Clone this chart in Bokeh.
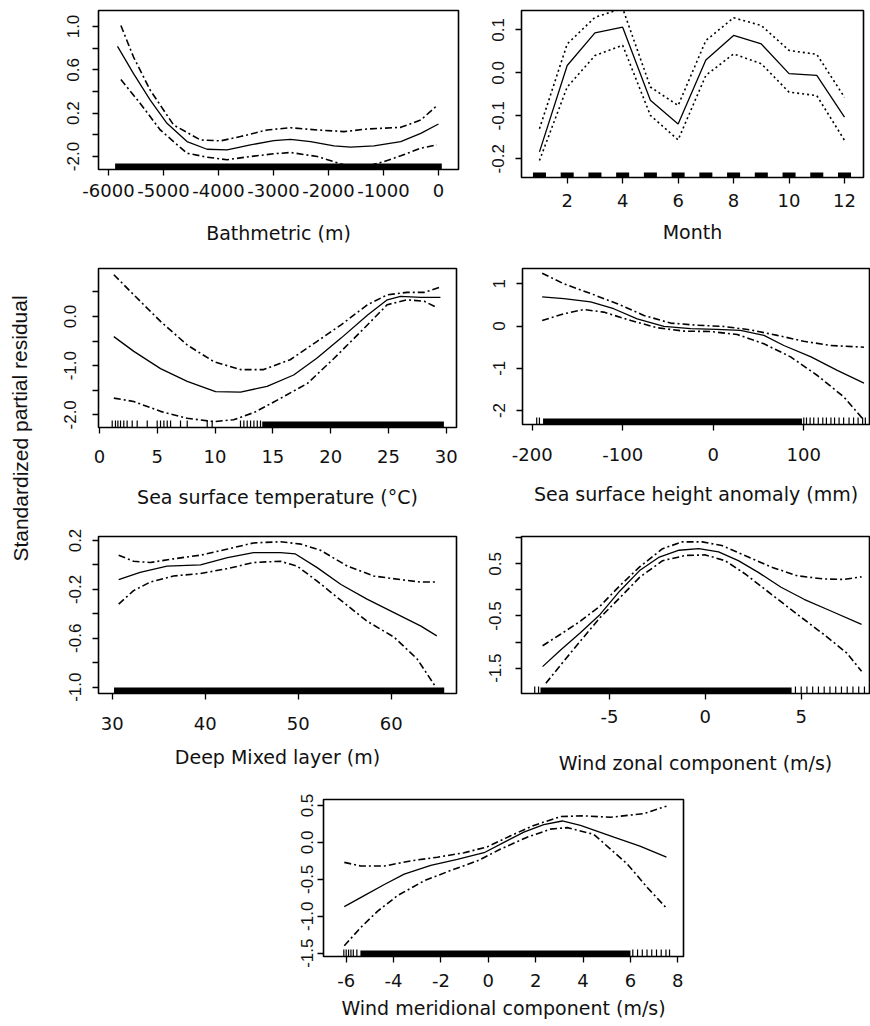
from bokeh.plotting import figure
from bokeh.layouts import row, column
from bokeh.models import FixedTicker, Range1d
from bokeh.core.properties import value
from bokeh.embed import file_html
from bokeh.resources import INLINE

# ---------------- data ----------------
# Bathymetric (m)
bath_x = [-5836, -5545, -5241, -4937, -4573, -4208, -3844, -3419, -2994, -2690, -2326, -1901, -1597, -1172, -686, -322, 0]
bath_fit = [0.816, 0.565, 0.32, 0.106, -0.062, -0.133, -0.139, -0.093, -0.053, -0.041, -0.062, -0.102, -0.114, -0.102, -0.062, 0.014, 0.10]
bath_up_x = [-5775, -5545, -5241, -4816, -4330, -3965, -3601, -3115, -2690, -2204, -1718, -1293, -686, -322, -49]
bath_up = [1.009, 0.718, 0.412, 0.091, -0.047, -0.056, -0.016, 0.045, 0.066, 0.045, 0.03, 0.054, 0.069, 0.137, 0.26]
bath_lo_x = [-5775, -5423, -5059, -4573, -4208, -3844, -3419, -2994, -2690, -2204, -1718, -1293, -990, -686, -322, -30]
bath_lo = [0.51, 0.29, 0.045, -0.17, -0.206, -0.23, -0.2, -0.175, -0.163, -0.2, -0.277, -0.29, -0.246, -0.194, -0.123, -0.093]
bath_rug_span = [-5880, 60]
bath_xticks = [-6000, -5000, -4000, -3000, -2000, -1000, 0]
bath_xlabels = ["-6000", "-5000", "-4000", "-3000", "-2000", "-1000", "0"]
bath_yticks = [1.0, 0.8, 0.6, 0.4, 0.2, 0.0, -0.2]
bath_ylabels = ["1.0", "", "0.6", "", "0.2", "", "-2.0"]

# Month
months = [1, 2, 3, 4, 5, 6, 7, 8, 9, 10, 11, 12]
month_fit = [-0.184, 0.017, 0.093, 0.106, -0.064, -0.119, 0.030, 0.087, 0.067, -0.002, -0.006, -0.103]
month_up = [-0.130, 0.067, 0.129, 0.150, -0.033, -0.076, 0.075, 0.128, 0.110, 0.052, 0.043, -0.057]
month_lo = [-0.204, -0.033, 0.040, 0.064, -0.099, -0.156, -0.006, 0.044, 0.021, -0.045, -0.053, -0.157]
month_xticks = [2, 4, 6, 8, 10, 12]
month_xlabels = ["2", "4", "6", "8", "10", "12"]
month_yticks = [0.1, 0.0, -0.1, -0.2]
month_ylabels = ["0.1", "0.0", "-0.1", "-0.2"]

# Sea surface temperature
sst_x = [1.24, 2.97, 5.28, 7.59, 10.04, 12.2, 14.5, 16.8, 18.8, 20.9, 23.2, 24.9, 26.05, 27.8, 29.5]
sst_fit = [-0.41, -0.71, -1.06, -1.32, -1.53, -1.54, -1.42, -1.19, -0.85, -0.44, 0.03, 0.34, 0.41, 0.39, 0.39]
sst_up_x = [1.24, 2.97, 5.28, 7.59, 9.9, 12.2, 14.2, 16.5, 18.8, 20.9, 23.2, 24.9, 26.6, 28.1, 29.4]
sst_up = [0.85, 0.44, -0.10, -0.58, -0.92, -1.08, -1.08, -0.88, -0.51, -0.17, 0.24, 0.44, 0.49, 0.49, 0.59]
sst_lo_x = [1.24, 2.97, 5.28, 7.59, 9.9, 11.6, 13.4, 15.7, 18.0, 20.3, 22.6, 24.9, 26.6, 28.1, 29.2]
sst_lo = [-1.66, -1.73, -1.93, -2.07, -2.14, -2.10, -1.95, -1.66, -1.36, -0.85, -0.31, 0.24, 0.34, 0.31, 0.18]
sst_rug_sparse = [1.1, 1.38, 1.59, 1.82, 2.1, 2.39, 2.83, 3.26, 4.13, 4.99, 5.28, 5.57, 5.86, 6.15, 7.01, 7.59,
                  9.32, 9.75, 12.2, 12.49, 12.78, 13.07, 13.36, 13.65, 13.93]
sst_rug_span = [14.08, 29.8]
sst_xticks = [0, 5, 10, 15, 20, 25, 30]
sst_xlabels = ["0", "5", "10", "15", "20", "25", "30"]
sst_yticks = [0.5, 0.0, -0.5, -1.0, -1.5, -2.0]
sst_ylabels = ["", "0.0", "", "-1.0", "", "-2.0"]

# Sea surface height anomaly
ssh_x = [-189, -165, -135.5, -110, -84, -54.5, -25, 4, 30, 56, 78, 108, 137, 166.5]
ssh_fit = [0.69, 0.65, 0.57, 0.41, 0.17, -0.01, -0.06, -0.08, -0.10, -0.22, -0.46, -0.73, -1.05, -1.35]
ssh_up_x = [-189, -165, -135.5, -106, -76.6, -47, -17.7, 11.8, 41, 70.7, 100, 129.7, 166.5]
ssh_up = [1.25, 1.0, 0.77, 0.53, 0.25, 0.07, 0.02, -0.01, -0.09, -0.22, -0.36, -0.46, -0.50]
ssh_lo_x = [-189, -165, -143, -121, -91, -62, -32.4, -3, 26.5, 56, 85.5, 115, 144.4, 166.5]
ssh_lo = [0.13, 0.29, 0.39, 0.33, 0.13, -0.04, -0.12, -0.13, -0.20, -0.42, -0.73, -1.17, -1.68, -2.23]
ssh_rug_sparse = [-195, -192, 100, 103, 107, 111, 116, 121, 125, 130, 134, 139, 144, 150, 155, 160, 165, 168]
ssh_rug_span = [-188, 98]
ssh_xticks = [-200, -100, 0, 100]
ssh_xlabels = ["-200", "-100", "0", "100"]
ssh_yticks = [1, 0, -1, -2]
ssh_ylabels = ["1", "0", "-1", "-2"]

# Deep mixed layer
mld_x = [30.7, 33.0, 35.9, 39.5, 42.4, 45.2, 48.1, 49.7, 52.0, 54.6, 57.4, 60.3, 63.2, 64.9]
mld_fit = [-0.12, -0.06, -0.01, 0.0, 0.06, 0.10, 0.10, 0.09, -0.02, -0.16, -0.28, -0.39, -0.50, -0.58]
mld_up_x = [30.7, 32.3, 34.1, 36.6, 39.5, 42.4, 45.2, 48.1, 50.3, 52.4, 55.3, 58.1, 61.0, 63.2, 64.9]
mld_up = [0.08, 0.03, 0.02, 0.05, 0.08, 0.13, 0.18, 0.19, 0.17, 0.12, -0.01, -0.09, -0.12, -0.14, -0.14]
mld_lo_x = [30.7, 32.3, 34.1, 36.6, 39.5, 42.4, 45.2, 48.1, 49.9, 52.0, 54.6, 57.4, 60.3, 62.8, 64.8]
mld_lo = [-0.32, -0.21, -0.14, -0.09, -0.07, -0.03, 0.02, 0.03, -0.01, -0.13, -0.29, -0.46, -0.59, -0.77, -1.0]
mld_rug_span = [30.2, 65.7]
mld_xticks = [30, 40, 50, 60]
mld_xlabels = ["30", "40", "50", "60"]
mld_yticks = [0.2, 0.0, -0.2, -0.4, -0.6, -0.8, -1.0]
mld_ylabels = ["0.2", "", "-0.2", "", "-0.6", "", "-1.0"]

# Wind zonal component
uz_x = [-8.49, -7.55, -6.52, -5.49, -4.46, -3.43, -2.4, -1.37, -0.34, 0.69, 1.72, 2.74, 3.95, 5.15, 6.52, 8.15]
uz_fit = [-1.47, -1.15, -0.82, -0.47, -0.02, 0.37, 0.63, 0.76, 0.79, 0.73, 0.56, 0.34, 0.05, -0.18, -0.40, -0.66]
uz_up_x = [-8.49, -7.55, -6.52, -5.49, -4.46, -3.43, -2.23, -1.2, -0.17, 0.86, 2.06, 3.43, 4.8, 6.17, 7.2, 8.15]
uz_up = [-1.07, -0.85, -0.60, -0.31, 0.08, 0.44, 0.79, 0.92, 0.92, 0.85, 0.66, 0.44, 0.27, 0.21, 0.20, 0.25]
uz_lo_x = [-8.32, -7.55, -6.52, -5.49, -4.46, -3.43, -2.23, -1.03, 0.0, 1.03, 2.06, 3.43, 4.8, 6.17, 7.38, 8.15]
uz_lo = [-1.79, -1.44, -0.98, -0.53, -0.15, 0.24, 0.56, 0.66, 0.67, 0.56, 0.31, -0.08, -0.47, -0.85, -1.21, -1.56]
uz_rug_sparse = [-8.9, -8.7, 4.7, 5.0, 5.3, 5.6, 5.9, 6.2, 6.5, 6.8, 7.1, 7.4, 7.7, 8.0, 8.3]
uz_rug_span = [-8.6, 4.5]
uz_xticks = [-5, 0, 5]
uz_xlabels = ["-5", "0", "5"]
uz_yticks = [1.0, 0.5, 0.0, -0.5, -1.0, -1.5]
uz_ylabels = ["", "0.5", "", "-0.5", "", "-1.5"]

# Wind meridional component
vm_x = [-6.08, -5.24, -4.39, -3.55, -2.43, -1.31, -0.18, 0.66, 1.5, 2.34, 3.12, 3.89, 5.3, 6.4, 7.52]
vm_fit = [-0.87, -0.72, -0.57, -0.43, -0.31, -0.23, -0.14, 0.0, 0.14, 0.24, 0.29, 0.23, 0.07, -0.05, -0.20]
vm_up_x = [-6.08, -5.38, -4.39, -3.27, -2.15, -1.02, -0.04, 0.94, 1.92, 3.05, 4.03, 5.16, 6.57, 7.13, 7.52]
vm_up = [-0.27, -0.32, -0.32, -0.25, -0.20, -0.14, -0.06, 0.09, 0.23, 0.35, 0.36, 0.34, 0.39, 0.45, 0.49]
vm_lo_x = [-6.08, -5.38, -4.67, -3.83, -2.71, -1.59, -0.46, 0.52, 1.64, 2.62, 3.33, 4.45, 5.86, 6.71, 7.52]
vm_lo = [-1.40, -1.15, -0.93, -0.72, -0.52, -0.38, -0.25, -0.09, 0.07, 0.18, 0.20, 0.11, -0.29, -0.61, -0.89]
vm_rug_sparse = [-6.1, -6.0, -5.9, -5.8, -5.7, -5.55, 6.1, 6.3, 6.5, 6.7, 6.9, 7.1, 7.3, 7.5, 7.65]
vm_rug_span = [-5.4, 6.0]
vm_xticks = [-6, -4, -2, 0, 2, 4, 6, 8]
vm_xlabels = ["-6", "-4", "-2", "0", "2", "4", "6", "8"]
vm_yticks = [0.5, 0.0, -0.5, -1.0, -1.5]
vm_ylabels = ["0.5", "0.0", "-0.5", "-1.0", "-1.5"]

y_title = "Standardized partial residual"

# ---------------- style ----------------
TICK_FONT = "DejaVu Sans"
YTICK_FONT = "Liberation Sans"
TEXT_COLOR = "#111111"
CI_DASH = "7 3 2 3"


def panel(xr, yr, fw, fh, bl, br, bt, bb, xticks, xlabels, yticks, ylabels,
          title, xstand, tstand, ystand):
    p = figure(frame_width=fw, frame_height=fh,
               x_range=Range1d(*xr), y_range=Range1d(*yr),
               min_border_left=bl, min_border_right=br,
               min_border_top=bt, min_border_bottom=bb,
               output_backend="svg", toolbar_location=None, tools="")
    p.grid.visible = False
    p.outline_line_color = "black"
    p.outline_line_width = 1.6
    p.background_fill_color = "white"
    p.border_fill_color = "white"

    xa = p.xaxis[0]
    xa.ticker = FixedTicker(ticks=xticks)
    xa.major_label_overrides = dict(zip(xticks, xlabels))
    xa.axis_line_color = None
    xa.major_tick_out = 6
    xa.major_tick_in = 0
    xa.major_tick_line_width = 1.3
    xa.minor_tick_line_color = None
    xa.major_label_text_font = TICK_FONT
    xa.major_label_text_font_size = "18px"
    xa.major_label_text_color = TEXT_COLOR
    xa.major_label_standoff = xstand
    xa.axis_label = title
    xa.axis_label_text_font = TICK_FONT
    xa.axis_label_text_font_size = "19px"
    xa.axis_label_text_font_style = "normal"
    xa.axis_label_text_color = TEXT_COLOR
    xa.axis_label_standoff = tstand

    ya = p.yaxis[0]
    ya.ticker = FixedTicker(ticks=yticks)
    ya.major_label_overrides = dict(zip(yticks, ylabels))
    ya.axis_line_color = None
    ya.major_tick_out = 6
    ya.major_tick_in = 0
    ya.major_tick_line_width = 1.3
    ya.minor_tick_line_color = None
    ya.major_label_orientation = "vertical"
    ya.major_label_text_font = YTICK_FONT
    ya.major_label_text_font_size = "17px"
    ya.major_label_text_color = TEXT_COLOR
    ya.major_label_standoff = ystand
    return p


def curves(p, x, fit, ux, up, lx, lo, dash=CI_DASH):
    p.line(x, fit, line_color="black", line_width=1.3)
    p.line(ux, up, line_color="black", line_width=1.6, line_dash=dash)
    p.line(lx, lo, line_color="black", line_width=1.6, line_dash=dash)


def rug(p, ybase, span=None, sparse=None):
    if span is not None:
        p.rect(x=[(span[0] + span[1]) / 2], y=[ybase], width=[span[1] - span[0]],
               height=12, height_units="screen", fill_color="black", line_color=None)
    if sparse is not None:
        p.rect(x=sparse, y=[ybase] * len(sparse), width=1.2, width_units="screen",
               height=14, height_units="screen", fill_color="black", line_color=None)


# ----- Row 1 (0..248) -----
p1 = panel((-6182, 364), (-0.32, 1.1477), 360, 159, 98, 12, 7, 82,
           bath_xticks, bath_xlabels, bath_yticks, bath_ylabels,
           "Bathmetric (m)", 8, 22, 13)
rug(p1, -0.32, span=bath_rug_span)
curves(p1, bath_x, bath_fit, bath_up_x, bath_up, bath_lo_x, bath_lo)

p2 = panel((0.352, 12.685), (-0.2435, 0.1449), 342, 167, 51, 7, 10, 71,
           month_xticks, month_xlabels, month_yticks, month_ylabels,
           "Month", 10, 11, 11)
p2.rect(x=months, y=[-0.2435] * len(months), width=0.47, height=10, height_units="screen",
        fill_color="black", line_color=None)
curves(p2, months, month_fit, months, month_up, months, month_lo, dash="2 3")

# ----- Row 2 (248..512) -----
p3 = panel((-0.087, 30.89), (-2.258, 0.976), 358, 159, 58, 16, 19, 86,
           sst_xticks, sst_xlabels, sst_yticks, sst_ylabels,
           "Sea surface temperature (\u00b0C)", 16, 20, 16)
rug(p3, -2.258, span=sst_rug_span, sparse=sst_rug_sparse)
curves(p3, sst_x, sst_fit, sst_up_x, sst_up, sst_lo_x, sst_lo)

p4 = panel((-210.7, 172.6), (-2.33, 1.362), 347, 156, 50, 1, 20, 88,
           ssh_xticks, ssh_xlabels, ssh_yticks, ssh_ylabels,
           "Sea surface height anomaly (mm)", 17, 19, 11)
rug(p4, -2.33, span=ssh_rug_span, sparse=ssh_rug_sparse)
curves(p4, ssh_x, ssh_fit, ssh_up_x, ssh_up, ssh_lo_x, ssh_lo)

# ----- Row 3 (512..781) -----
p5 = panel((28.53, 67.02), (-1.0515, 0.2327), 358, 157, 58, 16, 24, 88,
           mld_xticks, mld_xlabels, mld_yticks, mld_ylabels,
           "Deep Mixed layer (m)", 17, 13, 11)
rug(p5, -1.0515, span=mld_rug_span)
curves(p5, mld_x, mld_fit, mld_up_x, mld_up, mld_lo_x, mld_lo)

p6 = panel((-9.59, 8.563), (-1.985, 1.023), 348, 157, 49, 1, 24, 88,
           uz_xticks, uz_xlabels, uz_yticks, uz_ylabels,
           "Wind zonal component (m/s)", 10, 26, 14)
rug(p6, -1.985, span=uz_rug_span, sparse=uz_rug_sparse)
curves(p6, uz_x, uz_fit, uz_up_x, uz_up, uz_lo_x, uz_lo)

# ----- Row 4 (781..1024) -----
p7 = panel((-6.958, 8.24), (-1.545, 0.581), 360, 157, 323, 10, 18, 68,
           vm_xticks, vm_xlabels, vm_yticks, vm_ylabels,
           "Wind meridional component (m/s)", 11, 7, 4)
rug(p7, -1.545, span=vm_rug_span, sparse=vm_rug_sparse)
curves(p7, vm_x, vm_fit, vm_up_x, vm_up, vm_lo_x, vm_lo)

# shared y title (spans rows 2-3)
py = figure(width=40, height=533, x_range=Range1d(0, 40), y_range=Range1d(0, 533),
            min_border=0, output_backend="svg", toolbar_location=None, tools="")
py.axis.visible = False
py.grid.visible = False
py.outline_line_color = None
py.text(x=[19.5], y=[353], text=[y_title], angle=1.5708, text_align="center",
        text_baseline="middle", text_font=value("Liberation Sans"),
        text_font_size="21px", text_color=TEXT_COLOR)

layout = column(
    row(p1, p2, spacing=0),
    row(py, column(row(p3, p4, spacing=0), row(p5, p6, spacing=0), spacing=0), spacing=0),
    row(p7, spacing=0),
    spacing=0,
)

open("out.html", "w").write(file_html(layout, INLINE))
